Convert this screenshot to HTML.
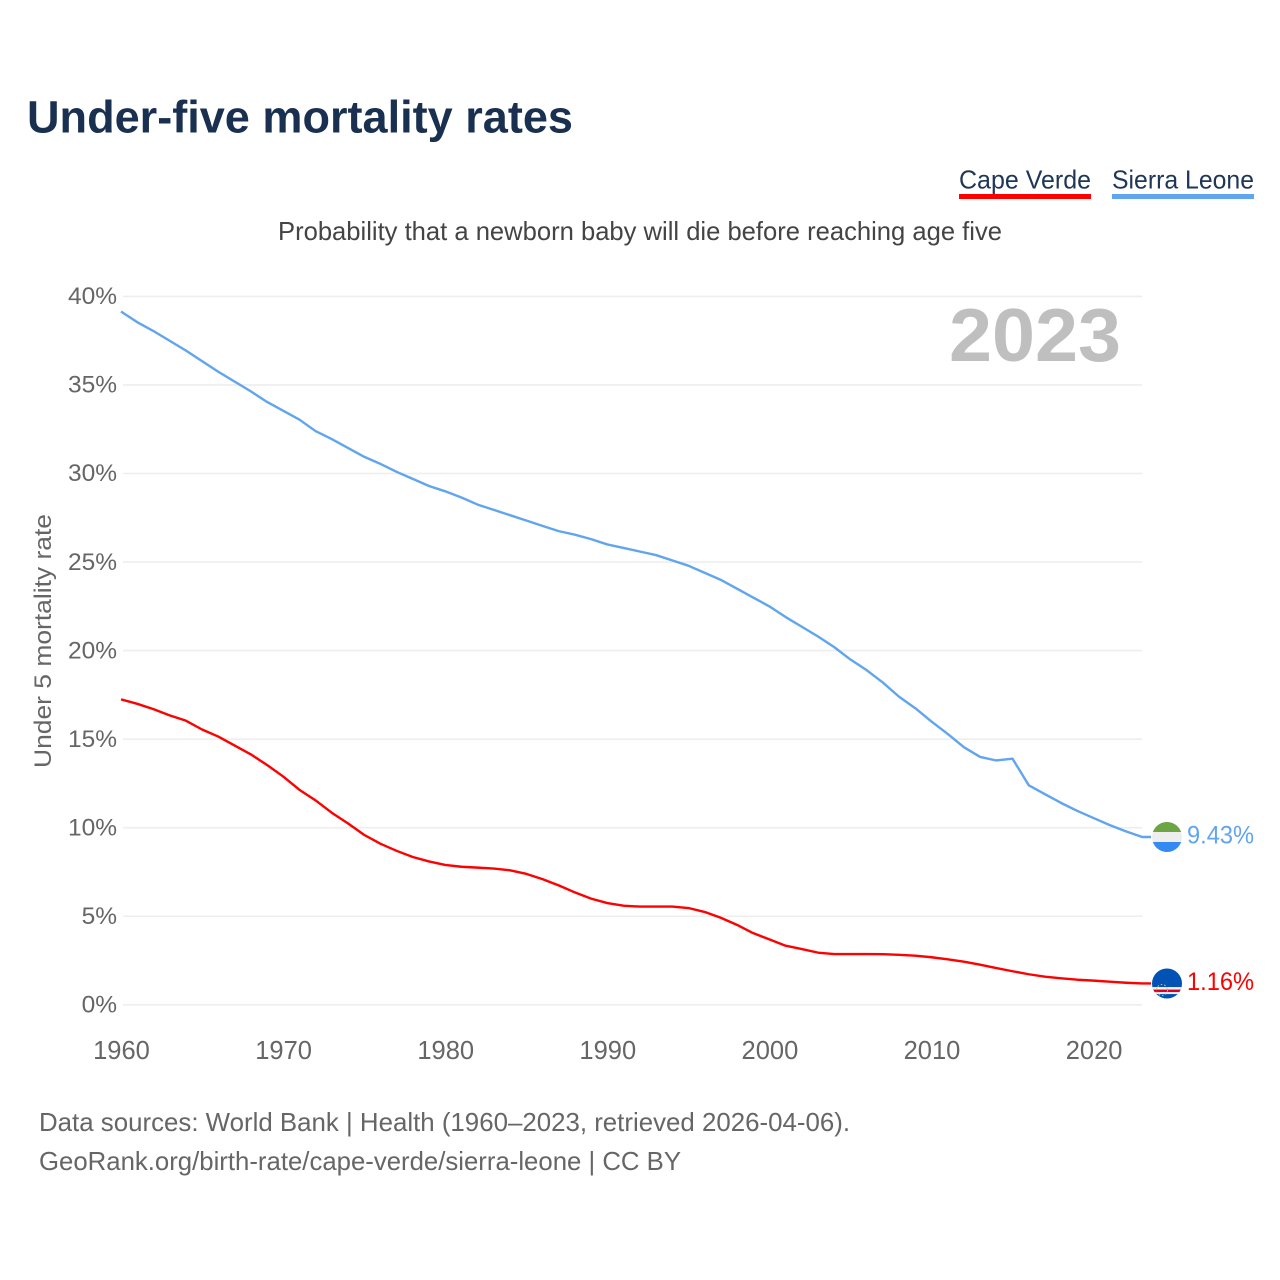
<!DOCTYPE html>
<html lang="en">
<head>
<meta charset="utf-8">
<title>Under-five mortality rates</title>
<style>
html,body{margin:0;padding:0;background:#fff;}
svg{display:block;}
text{font-family:"Liberation Sans",sans-serif;}
</style>
</head>
<body>
<svg id="chart" xmlns="http://www.w3.org/2000/svg" width="1280" height="1280" viewBox="0 0 1280 1280">
  <rect x="0" y="0" width="1280" height="1280" fill="#ffffff"/>
  <text x="27" y="132.5" font-size="45" font-weight="700" fill="#1a3050" textLength="546" lengthAdjust="spacingAndGlyphs">Under-five mortality rates</text>
  <g>
    <text x="959" y="188.5" font-size="26" fill="#1f3658" textLength="132" lengthAdjust="spacingAndGlyphs">Cape Verde</text>
    <rect x="959" y="194" width="132" height="5" fill="#ff0000"/>
  </g>
  <g>
    <text x="1112" y="188.5" font-size="26" fill="#1f3658" textLength="142" lengthAdjust="spacingAndGlyphs">Sierra Leone</text>
    <rect x="1112" y="194" width="142" height="5" fill="#60a5ee"/>
  </g>
  <text x="278" y="240" font-size="26" fill="#444444" textLength="724" lengthAdjust="spacingAndGlyphs">Probability that a newborn baby will die before reaching age five</text>
  <g id="grid"></g>
  <g id="ytick-labels"></g>
  <g id="xtick-labels"></g>
  <text x="949" y="361" font-size="75" font-weight="700" fill="#bfbfbf" textLength="172" lengthAdjust="spacingAndGlyphs">2023</text>
  <text transform="translate(51,768) rotate(-90)" x="0" y="0" font-size="24.5" fill="#666666" textLength="254" lengthAdjust="spacingAndGlyphs">Under 5 mortality rate</text>
  <g id="series"></g>
  <defs>
    <clipPath id="clip-sl"><circle id="clip-sl-circle" cx="1167" cy="837" r="15"/></clipPath>
    <clipPath id="clip-cv"><circle id="clip-cv-circle" cx="1167" cy="983.4" r="15"/></clipPath>
  </defs>
  <g id="flag-sl">
    <g clip-path="url(#clip-sl)">
      <rect x="1150" y="820" width="34" height="12" fill="#6da544"/>
      <rect x="1150" y="832" width="34" height="10" fill="#eeeeee"/>
      <rect x="1150" y="842" width="34" height="12" fill="#338af3"/>
    </g>
  </g>
  <g id="flag-cv">
    <g clip-path="url(#clip-cv)">
      <rect x="1150" y="966" width="34" height="34" fill="#0052b4"/>
      <rect x="1150" y="987" width="34" height="7" fill="#f0f0f0"/>
      <rect x="1150" y="989.5" width="34" height="2.5" fill="#d80027"/>
      <circle cx="1162" cy="990" r="5.5" fill="none" stroke="#e8c84a" stroke-width="1" stroke-dasharray="1.5 2"/>
    </g>
  </g>
  <g id="end-labels"></g>
  <text x="39" y="1131" font-size="26" fill="#666666" textLength="811" lengthAdjust="spacingAndGlyphs">Data sources: World Bank | Health (1960–2023, retrieved 2026-04-06).</text>
  <text x="39" y="1170" font-size="26" fill="#666666" textLength="642" lengthAdjust="spacingAndGlyphs">GeoRank.org/birth-rate/cape-verde/sierra-leone | CC BY</text>
</svg>
<script>
const years = [1960,1961,1962,1963,1964,1965,1966,1967,1968,1969,1970,1971,1972,1973,1974,1975,1976,1977,1978,1979,1980,1981,1982,1983,1984,1985,1986,1987,1988,1989,1990,1991,1992,1993,1994,1995,1996,1997,1998,1999,2000,2001,2002,2003,2004,2005,2006,2007,2008,2009,2010,2011,2012,2013,2014,2015,2016,2017,2018,2019,2020,2021,2022,2023];
const sierraLeone = [39.1,38.5,38.0,37.45,36.9,36.3,35.7,35.15,34.6,34.0,33.5,33.0,32.35,31.9,31.4,30.9,30.5,30.05,29.65,29.25,28.95,28.6,28.2,27.9,27.6,27.3,27.0,26.7,26.5,26.25,25.95,25.75,25.55,25.35,25.05,24.75,24.35,23.95,23.45,22.95,22.45,21.85,21.3,20.75,20.15,19.45,18.85,18.15,17.35,16.7,15.95,15.25,14.5,13.95,13.75,13.85,12.35,11.85,11.35,10.9,10.5,10.1,9.75,9.43];
const capeVerde = [17.2,16.95,16.65,16.3,16.0,15.5,15.1,14.6,14.1,13.5,12.85,12.1,11.5,10.8,10.2,9.55,9.05,8.65,8.3,8.05,7.85,7.75,7.7,7.65,7.55,7.35,7.05,6.7,6.3,5.95,5.7,5.55,5.5,5.5,5.5,5.42,5.2,4.87,4.47,4.0,3.65,3.29,3.1,2.9,2.82,2.82,2.82,2.81,2.78,2.73,2.64,2.52,2.39,2.22,2.03,1.85,1.68,1.54,1.45,1.37,1.32,1.26,1.2,1.16];
const yTicks = [0,5,10,15,20,25,30,35,40];
const xTicks = [1960,1970,1980,1990,2000,2010,2020];
const endLabelSierraLeone = "9.43%";
const endLabelCapeVerde = "1.16%";

const NS = "http://www.w3.org/2000/svg";
const xScale = function (yr) { return 121 + (yr - 1960) * 16.21; };
const yScale = function (v) { return 1004 - v * 17.71; };
const gridRight = xScale(2023);

const gridG = document.getElementById("grid");
const yLabG = document.getElementById("ytick-labels");
const xLabG = document.getElementById("xtick-labels");
const seriesG = document.getElementById("series");
const endG = document.getElementById("end-labels");

yTicks.forEach(function (t) {
  const line = document.createElementNS(NS, "line");
  line.setAttribute("x1", 123);
  line.setAttribute("x2", gridRight);
  line.setAttribute("y1", yScale(t) + 0.8);
  line.setAttribute("y2", yScale(t) + 0.8);
  line.setAttribute("stroke", "#eeeeee");
  line.setAttribute("stroke-width", "1.6");
  
  
  gridG.appendChild(line);

  const label = document.createElementNS(NS, "text");
  label.setAttribute("x", 117);
  label.setAttribute("y", yScale(t) + 8.5);
  label.setAttribute("text-anchor", "end");
  label.setAttribute("font-size", "24.5");
  label.setAttribute("fill", "#666666");
  label.textContent = t + "%";
  
  
  yLabG.appendChild(label);
});

xTicks.forEach(function (t) {
  const label = document.createElementNS(NS, "text");
  label.setAttribute("x", xScale(t) + 0.5);
  label.setAttribute("y", 1059);
  label.setAttribute("text-anchor", "middle");
  label.setAttribute("font-size", "25.5");
  label.setAttribute("fill", "#666666");
  label.textContent = t;
  
  
  xLabG.appendChild(label);
});

function drawSeries(values, color, width) {
  const pts = values.map(function (v, i) { return xScale(years[i]).toFixed(2) + "," + yScale(v).toFixed(2); });
  const last = values[values.length - 1];
  pts.push("1151," + yScale(last).toFixed(2));
  const path = document.createElementNS(NS, "polyline");
  path.setAttribute("points", pts.join(" "));
  path.setAttribute("fill", "none");
  path.setAttribute("stroke", color);
  path.setAttribute("stroke-width", width);
  path.setAttribute("stroke-linejoin", "round");
  return path;
}

const slLine = drawSeries(sierraLeone, "#60a5ee", "2.4");


seriesG.appendChild(slLine);

const cvLine = drawSeries(capeVerde, "#ff0000", "2.4");


seriesG.appendChild(cvLine);

const slLast = yScale(sierraLeone[sierraLeone.length - 1]);
const cvLast = yScale(capeVerde[capeVerde.length - 1]);
document.getElementById("flag-sl").setAttribute("transform", "translate(0," + (slLast - 837) + ")");
document.getElementById("flag-cv").setAttribute("transform", "translate(0," + (cvLast - 983.4) + ")");

const slText = document.createElementNS(NS, "text");
slText.setAttribute("x", 1187);
slText.setAttribute("y", slLast + 6.5);
slText.setAttribute("font-size", "25");
slText.setAttribute("fill", "#60a5ee");
slText.setAttribute("textLength", "67");
slText.setAttribute("lengthAdjust", "spacingAndGlyphs");
slText.textContent = endLabelSierraLeone;


endG.appendChild(slText);

const cvText = document.createElementNS(NS, "text");
cvText.setAttribute("x", 1187);
cvText.setAttribute("y", cvLast + 6.5);
cvText.setAttribute("font-size", "25");
cvText.setAttribute("fill", "#ff0000");
cvText.setAttribute("textLength", "67");
cvText.setAttribute("lengthAdjust", "spacingAndGlyphs");
cvText.textContent = endLabelCapeVerde;


endG.appendChild(cvText);
</script>
</body>
</html>
